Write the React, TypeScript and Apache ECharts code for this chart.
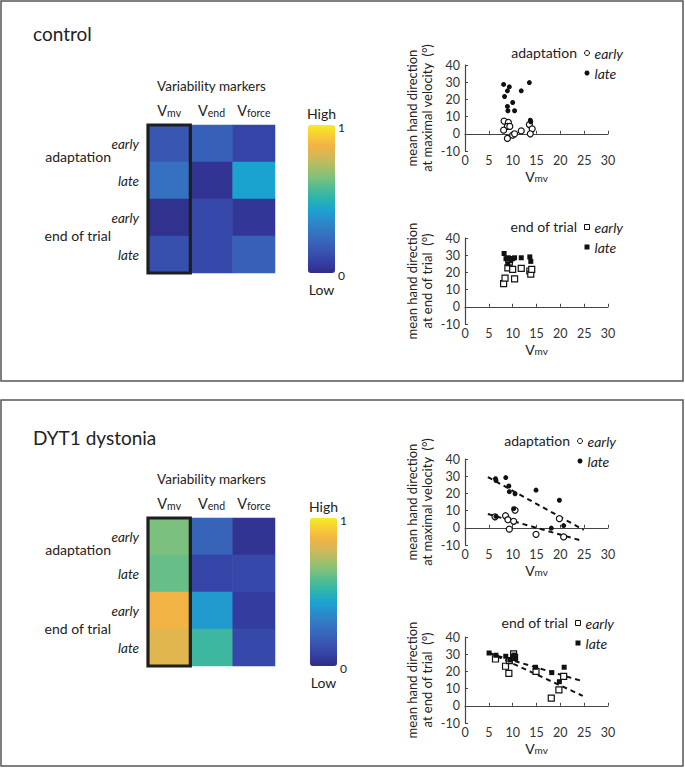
import React, { useEffect, useRef } from "react";
import * as echarts from "echarts";

// ---------- data ----------
const markerCols = ["Vmv", "Vend", "Vforce"];
const markerSubs = ["mv", "end", "force"];
const rowKeys = ["adaptation|early", "adaptation|late", "end of trial|early", "end of trial|late"];
const groupLabels = ["adaptation", "end of trial"];
const panelTitles = ["control", "DYT1 dystonia"];

// rows: adapt early, adapt late, end early, end late ; cols: Vmv, Vend, Vforce
const controlHeat = [
  [0.16, 0.2, 0.09],
  [0.26, 0.03, 0.43],
  [0.02, 0.1, 0.04],
  [0.13, 0.1, 0.2],
];
const dystoniaHeat = [
  [0.64, 0.21, 0.03],
  [0.61, 0.09, 0.1],
  [0.86, 0.4, 0.06],
  [0.82, 0.54, 0.1],
];

// parula-like colour map (as printed, evenly spaced 0..1)
const PARULA = [
  "#302C86", "#3440A4", "#3853B0", "#3765BA", "#3478C4", "#2A8CCB", "#1BA3D0",
  "#2AB3B0", "#4DBB96", "#7DC07D", "#A8BE68", "#D2B858", "#F1B345", "#F8CC35", "#F5EC25",
];

// control, adaptation (x = Vmv, y = mean hand direction at max velocity)
const ctrlAdaptEarly = [
  [8.2, 7.4], [9.1, 6.6], [8.9, 4.3], [9.4, 4.3], [8.1, 2.1], [8.9, -2.7],
  [10.0, -0.8], [10.4, 0], [11.8, 1.7], [13.5, 5.4], [14.1, 2.9], [13.7, 0],
];
const ctrlAdaptLate = [
  [8.1, 28.7], [9.3, 27.3], [8.9, 25], [8.3, 21.7], [13.5, 29.8], [11.8, 25],
  [10.0, 18.2], [8.9, 15.9], [9.0, 13.4], [10.4, 13.4], [13.7, 7.9], [13.8, 7.0],
];
// control, end of trial
const ctrlEndEarly = [
  [8.1, 13.5], [8.4, 16.7], [10.4, 16.2], [9.0, 22.6], [10.0, 21.8], [11.8, 22.3],
  [13.6, 20.8], [13.8, 19], [14.0, 21.8], [9.3, 26], [9.2, 27.5],
];
const ctrlEndLate = [
  [8.2, 31], [8.6, 28], [9.1, 28.5], [9.6, 27], [10.4, 28.5], [11.8, 28.5],
  [13.6, 29], [13.8, 26.4], [9.0, 25], [10.0, 28],
];
// dystonia, adaptation
const dytAdaptEarly = [
  [6.3, 6.4], [8.5, 7], [9.0, 4.7], [10.2, 3.8], [9.3, -0.8], [10.5, 10.2],
  [14.9, -3.8], [19.8, 5.3], [20.7, -5.3],
];
const dytAdaptLate = [
  [6.4, 28.5], [6.5, 27.5], [8.55, 29.2], [9.2, 24.3], [9.3, 21], [10.5, 19.8],
  [14.9, 21.9], [19.8, 16], [10.2, 11.1], [18.1, -0.2], [20.7, 1.3], [6.5, 6.6],
];
const dytAdaptEarlyFit = [[4.8, 8], [24.5, -7.5]];
const dytAdaptLateFit = [[4.8, 29.5], [24.9, -1.2]];
// dystonia, end of trial
const dytEndEarly = [
  [6.4, 27.2], [8.5, 23], [9.2, 18.9], [9.3, 26.3], [10.2, 30.2], [10.4, 28.2],
  [14.9, 20], [18.1, 4.5], [19.7, 9.3], [20.7, 17.1],
];
const dytEndLate = [
  [5.05, 30.7], [6.5, 29.4], [8.55, 28.8], [9.4, 26.6], [10.4, 28], [10.3, 29.5],
  [14.8, 22.4], [18.2, 19.3], [19.8, 14], [20.8, 22.4],
];
const dytEndEarlyFit = [[5, 31], [24.7, 5.8]];
const dytEndLateFit = [[5, 30.5], [24.3, 14.6]];

const xRange = [0, 30, 5];
const yRange = [-10, 40, 10];

// ---------- layout ----------
const FONT = 'Lato, "Open Sans", sans-serif';
const HM_LEFT = 148;
const HM_W = 127;
const HM_H = 148;
const HM_TOPS = [125, 518];
const CB_LEFTS = [308, 310];
const CB_W = 27;

const SC_LEFT = 465;
const SC_W = 143;
const SC_H = 86;
const SC_TOPS = [65, 238, 459, 637];
const SC_YNAMES = [
  "mean hand direction\nat maximal velocity  (°)",
  "mean hand direction\nat end of trial  (°)",
  "mean hand direction\nat maximal velocity  (°)",
  "mean hand direction\nat end of trial  (°)",
];
const SC_GROUP = ["adaptation", "end of trial", "adaptation", "end of trial"];
const LEG_POS = [
  [584, 46],
  [584, 220],
  [577, 434],
  [575, 616],
];

const App: React.FC = () => {
  const ref = useRef<HTMLDivElement>(null);

  useEffect(() => {
    if (!ref.current) return;
    const chart = echarts.init(ref.current, undefined, { renderer: "svg" });

    const grids: any[] = [];
    const xAxes: any[] = [];
    const yAxes: any[] = [];
    const series: any[] = [];
    const visualMaps: any[] = [];
    const legends: any[] = [];
    const graphics: any[] = [];

    const heatSets = [controlHeat, dystoniaHeat];
    heatSets.forEach((mat, p) => {
      const top = HM_TOPS[p];
      grids.push({ left: HM_LEFT, top, width: HM_W, height: HM_H });
      xAxes.push({
        type: "category",
        gridIndex: p,
        position: "top",
        data: markerCols,
        name: "Variability markers",
        nameLocation: "middle",
        nameGap: 32,
        nameTextStyle: { fontSize: 13.5, color: "#222", fontFamily: FONT },
        axisLine: { show: false },
        axisTick: { show: false },
        axisLabel: {
          margin: 7,
          interval: 0,
          formatter: (_v: string, i: number) => `{b|V}{s|${markerSubs[i]}}`,
          rich: {
            b: { fontSize: 14.5, color: "#222", fontFamily: FONT, verticalAlign: "bottom" },
            s: { fontSize: 10.5, color: "#222", fontFamily: FONT, verticalAlign: "bottom" },
          },
        },
        splitLine: { show: false },
      });
      yAxes.push({
        type: "category",
        gridIndex: p,
        inverse: true,
        data: rowKeys,
        axisLine: { show: false },
        axisTick: { show: false },
        axisLabel: {
          margin: 9,
          interval: 0,
          fontSize: 13.5,
          fontStyle: "italic",
          color: "#222",
          fontFamily: FONT,
          formatter: (v: string) => v.split("|")[1],
        },
        splitLine: { show: false },
      });
      const data: any[] = [];
      mat.forEach((row, r) => row.forEach((v, c) => data.push([c, r, v])));
      series.push({
        type: "heatmap",
        xAxisIndex: p,
        yAxisIndex: p,
        data,
        emphasis: { disabled: true },
        silent: true,
      });
      visualMaps.push({
        type: "continuous",
        seriesIndex: p,
        min: 0,
        max: 1,
        calculable: false,
        hoverLink: false,
        orient: "vertical",
        left: CB_LEFTS[p],
        top,
        itemWidth: CB_W,
        itemHeight: HM_H,
        padding: 0,
        inRange: { color: PARULA },
        text: null,
      });
      // thick border around Vmv column
      graphics.push({
        type: "rect",
        shape: { x: HM_LEFT, y: top, width: HM_W / markerCols.length, height: HM_H },
        style: { fill: "none", stroke: "#1e1e1e", lineWidth: 3.2 },
        z: 100,
      });
      // group labels
      graphics.push({
        type: "text",
        x: HM_LEFT - 37,
        y: top + HM_H * 0.21,
        style: { text: groupLabels[0], fontSize: 14, fontFamily: FONT, fill: "#222", align: "right", verticalAlign: "middle" },
      });
      graphics.push({
        type: "text",
        x: HM_LEFT - 37,
        y: top + HM_H * 0.745,
        style: { text: groupLabels[1], fontSize: 14, fontFamily: FONT, fill: "#222", align: "right", verticalAlign: "middle" },
      });
      // colorbar labels
      const cbx = CB_LEFTS[p];
      graphics.push({
        type: "text",
        x: cbx + CB_W / 2,
        y: top - 12,
        style: { text: "High", fontSize: 14, fontFamily: FONT, fill: "#222", align: "center", verticalAlign: "middle" },
      });
      graphics.push({
        type: "text",
        x: cbx + CB_W / 2,
        y: top + HM_H + 16,
        style: { text: "Low", fontSize: 14, fontFamily: FONT, fill: "#222", align: "center", verticalAlign: "middle" },
      });
      graphics.push({
        type: "text",
        x: cbx + CB_W + 3,
        y: top + 2,
        style: { text: "1", fontSize: 12, fontFamily: FONT, fill: "#222", align: "left", verticalAlign: "middle" },
      });
      graphics.push({
        type: "text",
        x: cbx + CB_W + 3,
        y: top + HM_H + 2,
        style: { text: "0", fontSize: 12, fontFamily: FONT, fill: "#222", align: "left", verticalAlign: "middle" },
      });
    });

    const scatterSets = [
      { early: ctrlAdaptEarly, late: ctrlAdaptLate, sym: "circle" },
      { early: ctrlEndEarly, late: ctrlEndLate, sym: "rect" },
      { early: dytAdaptEarly, late: dytAdaptLate, sym: "circle", fitE: dytAdaptEarlyFit, fitL: dytAdaptLateFit },
      { early: dytEndEarly, late: dytEndLate, sym: "rect", fitE: dytEndEarlyFit, fitL: dytEndLateFit },
    ];
    scatterSets.forEach((s: any, i) => {
      const g = 2 + i;
      grids.push({ left: SC_LEFT, top: SC_TOPS[i], width: SC_W, height: SC_H });
      const axLine = { show: true, lineStyle: { color: "#444", width: 1.2 } };
      xAxes.push({
        type: "value",
        gridIndex: g,
        min: xRange[0],
        max: xRange[1],
        interval: xRange[2],
        name: "{b|V}{s|mv}",
        nameLocation: "middle",
        nameGap: 18,
        nameTextStyle: {
          rich: {
            b: { fontSize: 14, color: "#222", fontFamily: FONT, verticalAlign: "bottom" },
            s: { fontSize: 10, color: "#222", fontFamily: FONT, verticalAlign: "bottom" },
          },
        },
        axisLine: axLine,
        axisTick: { show: true, inside: true, length: 3, lineStyle: { color: "#444" } },
        axisLabel: { fontSize: 12.5, color: "#333", fontFamily: FONT, margin: 3 },
        splitLine: { show: false },
      });
      yAxes.push({
        type: "value",
        gridIndex: g,
        min: yRange[0],
        max: yRange[1],
        interval: yRange[2],
        name: SC_YNAMES[i],
        nameLocation: "middle",
        nameGap: 31,
        nameRotate: 90,
        nameTextStyle: { fontSize: 13, lineHeight: 15, color: "#222", fontFamily: FONT, align: "center" },
        axisLine: axLine,
        axisTick: { show: true, inside: true, length: 3, lineStyle: { color: "#444" } },
        axisLabel: { fontSize: 12.5, color: "#333", fontFamily: FONT, margin: 5 },
        splitLine: { show: false },
      });
      series.push({
        type: "scatter",
        name: "early",
        xAxisIndex: g,
        yAxisIndex: g,
        data: s.early,
        symbol: s.sym,
        symbolSize: 6,
        itemStyle: { color: "#fff", borderColor: "#111", borderWidth: 1.2, opacity: 1 },
        z: 3,
        silent: true,
      });
      series.push({
        type: "scatter",
        name: "late",
        xAxisIndex: g,
        yAxisIndex: g,
        data: s.late,
        symbol: s.sym,
        symbolSize: 5,
        itemStyle: { color: "#111", opacity: 1 },
        z: 4,
        silent: true,
      });
      if (s.fitE) {
        [s.fitE, s.fitL].forEach((fit: number[][]) => {
          series.push({
            type: "line",
            xAxisIndex: g,
            yAxisIndex: g,
            data: fit,
            symbol: "none",
            lineStyle: { color: "#111", width: 2, type: [5, 4] },
            z: 2,
            silent: true,
          });
        });
      }
      legends.push({
        left: LEG_POS[i][0],
        top: LEG_POS[i][1],
        orient: "vertical",
        itemWidth: 5,
        itemHeight: 5,
        itemGap: 6,
        padding: 0,
        selectedMode: false,
        textStyle: { fontSize: 14, fontStyle: "italic", color: "#222", fontFamily: FONT },
        data: [
          { name: "early", icon: s.sym, itemStyle: { color: "#fff", borderColor: "#111", borderWidth: 1 } },
          { name: "late", icon: s.sym, itemStyle: { color: "#111", borderWidth: 0 } },
        ],
      });
      graphics.push({
        type: "text",
        x: LEG_POS[i][0] - 7,
        y: LEG_POS[i][1] + 6,
        style: { text: SC_GROUP[i], fontSize: 14, fontFamily: FONT, fill: "#222", align: "right", verticalAlign: "middle" },
      });
    });

    // panel frames and titles
    graphics.push({
      type: "rect",
      shape: { x: 1, y: 1, width: 682, height: 380 },
      style: { fill: "none", stroke: "#555", lineWidth: 1.5 },
    });
    graphics.push({
      type: "rect",
      shape: { x: 1, y: 400, width: 682, height: 366 },
      style: { fill: "none", stroke: "#555", lineWidth: 1.5 },
    });
    graphics.push({
      type: "text",
      x: 33,
      y: 33,
      style: { text: panelTitles[0], fontSize: 19, fontFamily: FONT, fill: "#222", align: "left", verticalAlign: "middle" },
    });
    graphics.push({
      type: "text",
      x: 33,
      y: 437,
      style: { text: panelTitles[1], fontSize: 19, fontFamily: FONT, fill: "#222", align: "left", verticalAlign: "middle" },
    });

    chart.setOption({
      animation: false,
      backgroundColor: "#fff",
      textStyle: { fontFamily: FONT },
      grid: grids,
      xAxis: xAxes,
      yAxis: yAxes,
      visualMap: visualMaps,
      legend: legends,
      series,
      graphic: graphics,
    });

    return () => chart.dispose();
  }, []);

  return (
    <div
      ref={ref}
      style={{ position: "absolute", left: 0, top: 0, width: 685, height: 768, background: "#fff" }}
    />
  );
};

export default App;
